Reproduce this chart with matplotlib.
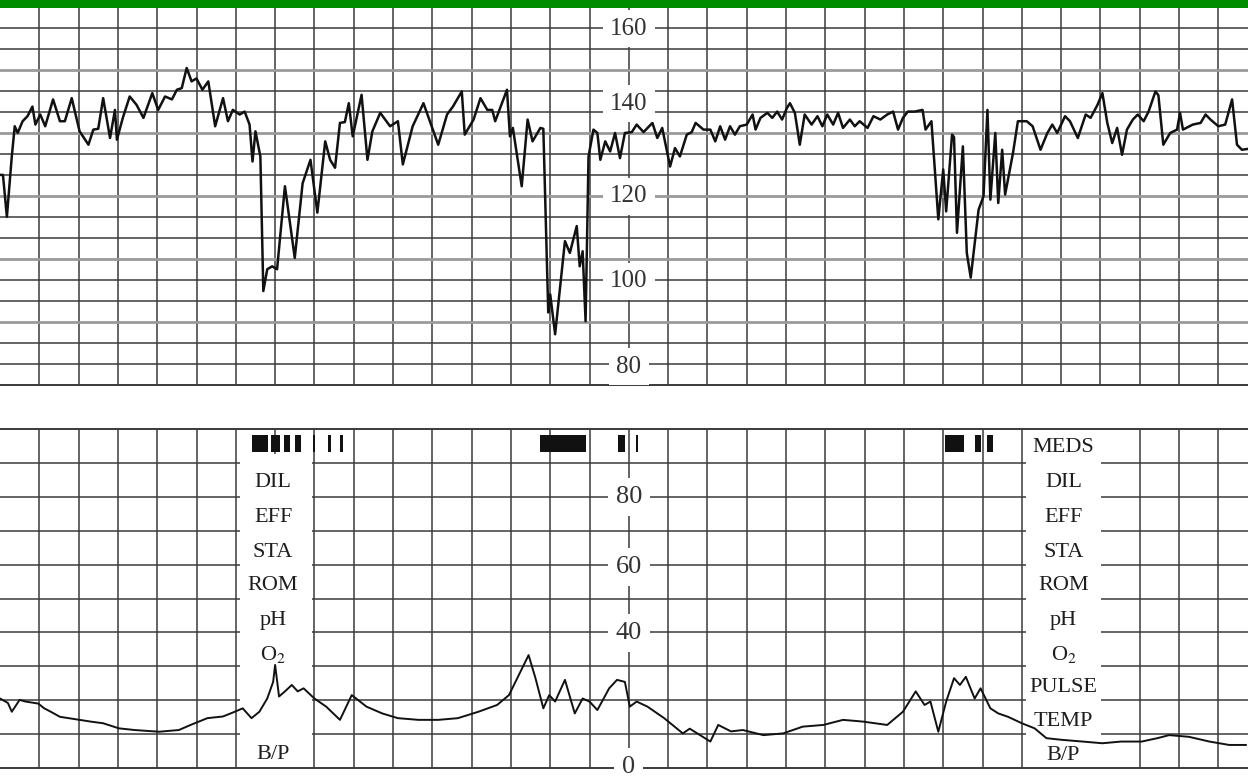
import matplotlib
matplotlib.use('Agg')
import matplotlib.pyplot as plt
from matplotlib.patches import Rectangle
import numpy as np

plt.rcParams['mathtext.fontset'] = 'stix'
SERIF = 'Liberation Serif'

# ---------------- data ----------------
# Fetal heart rate trace: time (s) and bpm
fhr_t = [0, 1.5, 3.5, 6, 7.5, 9, 11.5, 14, 16.5, 18,
         20.5, 23, 27, 30.5, 33, 36.5, 40.5, 45, 47.5, 50,
         52.5, 56, 58.5, 59.5, 62.5, 66, 69.5, 73, 77.5, 80.5,
         84, 87.5, 90, 92.5, 95, 97.5, 100, 103, 106, 109.5,
         113.5, 116, 118.5, 122, 124.5, 127, 128.5, 130, 132.5, 134,
         136, 138.5, 141, 145, 150, 154, 158, 161.5, 165.5, 168,
         170.5, 173, 175.5, 177.5, 179.5, 184, 187, 189.5, 193.5, 196,
         198.5, 202.5, 205, 210, 215.5, 223, 227.5, 230.5, 235, 236.5,
         241, 244.5, 248, 250.5, 252, 258, 259.5, 261, 265.5, 268.5,
         271, 275, 276.5, 279, 280, 282.5, 287.5, 290, 293.5, 295,
         296.5, 298, 299.5, 302, 304, 305.5, 308, 310.5, 313, 315.5,
         318, 321.5, 324, 327.5, 332, 334.5, 337, 341, 343.5, 346,
         349.5, 352, 354, 358, 361.5, 364, 366.5, 369, 371.5, 374,
         376.5, 380, 383, 384.5, 387, 390.5, 393, 395.5, 398, 400.5,
         402, 404.5, 407, 409.5, 413, 416, 418.5, 421, 424, 426.5,
         429, 432.5, 435, 437.5, 441.5, 444.5, 448, 451.5, 454.5, 457,
         459.5, 462, 465.5, 469.5, 471, 474, 477.5, 480, 481.5, 484.5,
         485.5, 487, 490, 492, 494, 498, 500.5, 502.5, 504, 506.5,
         508, 510, 511.5, 515.5, 518, 522.5, 525.5, 529.5, 533, 535.5,
         538, 542, 544.5, 548.5, 552.5, 555, 558.5, 561, 563.5, 566,
         568.5, 571, 573.5, 576.5, 579, 582, 584.5, 588, 589.5, 592,
         595.5, 599, 600.5, 602, 607, 611, 613.5, 616, 620, 623.5,
         627, 629.5, 632, 635]
fhr_bpm = [125, 125, 115, 129.4, 136.6, 135, 137.8, 139, 141.3, 137,
           139.4, 136.6, 143, 137.8, 137.8, 143.3, 135.4, 132.2, 135.8, 136,
           143.3, 133.8, 140.5, 133.4, 138.6, 143.7, 141.7, 138.6, 144.5, 140.5,
           143.7, 143, 145.3, 145.7, 150.5, 147.3, 148, 145.3, 147.3, 136.6,
           143.3, 137.8, 140.5, 139.4, 140.1, 137, 128.2, 135.4, 129.4, 97.3,
           102.5, 103.2, 102.5, 122.3, 105.2, 123, 128.6, 116, 133, 128.6,
           126.7, 137.4, 137.6, 142.1, 134.2, 144.1, 128.6, 135.4, 139.8, 138.2,
           136.6, 137.8, 127.5, 136.6, 142.1, 132.2, 139.4, 141.3, 144.9, 134.6,
           138.2, 143.3, 140.5, 140.5, 137.8, 145.3, 134.2, 136.2, 122.3, 138.2,
           133, 136.2, 136, 92.2, 96.5, 87, 109.2, 106.4, 112.8, 103.2,
           106.8, 90.1, 129.4, 135.8, 135, 128.6, 133, 130.6, 135, 129,
           135, 135.2, 137, 135.2, 137.4, 133.8, 136.2, 127, 131.4, 129.4,
           134.6, 135.2, 137.4, 135.8, 135.8, 133, 136.6, 133.4, 136.6, 134.6,
           136.6, 137, 139.4, 135.8, 138.6, 139.8, 138.6, 140.1, 138.2, 141,
           142.1, 139.8, 132.2, 139.4, 137, 139, 136.6, 139.4, 137, 139.8,
           136.2, 138.2, 136.6, 137.8, 136.2, 139, 138.2, 139.4, 140.1, 135.8,
           138.6, 140.1, 140.1, 140.5, 135.8, 137.8, 114.4, 126.3, 116.3, 134.6,
           134, 111.2, 131.8, 106.4, 100.5, 116.7, 119.9, 140.5, 119.1, 135,
           118.3, 131, 120.3, 130.2, 137.8, 137.8, 136.6, 131, 135, 137,
           135, 139, 137.8, 133.8, 139.4, 138.6, 141.7, 144.5, 137.4, 132.6,
           136.2, 129.8, 135.8, 138.2, 139.4, 137.8, 140.1, 144.9, 144, 132.2,
           135, 135.8, 139.8, 135.8, 137, 137.4, 139.4, 138.2, 136.6, 137,
           143, 132.2, 131, 131.2]

# Uterine activity trace: time (s) and pressure
ua_t = [0, 4, 6, 10, 13, 19.5, 22.5, 25.5, 30.5, 40.5,
        46, 52.5, 60.5, 68.5, 81, 91, 97, 105.5, 113.5, 119.5,
        123.5, 128, 132, 136, 139, 140, 142, 145, 148.5, 151.5,
        154.5, 160, 166, 173, 179, 186.5, 194.5, 202.5, 213, 223,
        233, 243.5, 253, 259, 264, 269, 272.5, 276.5, 279.5, 282.5,
        287.5, 292.5, 296.5, 300, 304, 310, 314, 318, 320.5, 324,
        329.5, 338, 347.5, 351, 361.5, 365.5, 372, 378, 388.5, 398.5,
        408.5, 419, 429, 439, 451.5, 459.5, 466, 470.5, 473.5, 477.5,
        481.5, 485.5, 488.5, 491.5, 496, 499, 504, 508, 513, 520,
        526.5, 532.5, 540.5, 551, 561, 570.5, 581, 589, 595, 605,
        615.5, 625.5, 634]
ua_val = [20.5, 19.2, 16.6, 20.1, 19.6, 19, 17.6, 16.7, 15.1, 14.2,
          13.7, 13.2, 11.7, 11.2, 10.7, 11.2, 12.7, 14.7, 15.2, 16.6,
          17.6, 14.7, 16.6, 20.5, 25.4, 30.4, 21.1, 22.6, 24.5, 22.6,
          23.5, 20.5, 18.1, 14.2, 21.5, 18.1, 16.1, 14.7, 14.2, 14.2,
          14.7, 16.6, 18.6, 21.5, 27.4, 33.3, 26.5, 17.6, 21.5, 19.6,
          26, 16.1, 20.5, 19.6, 17.1, 23.5, 26, 25.4, 18.1, 19.6,
          18.1, 14.7, 10.2, 11.6, 7.8, 12.7, 10.8, 11.2, 9.7, 10.2,
          12.2, 12.7, 14.2, 13.7, 12.7, 16.6, 22.6, 18.6, 19.6, 10.7,
          19.6, 26.5, 24.5, 26.9, 20.5, 23.5, 17.6, 16.1, 15.1, 13.2,
          11.7, 8.8, 8.3, 7.8, 7.3, 7.8, 7.8, 8.8, 9.7, 9.2,
          7.8, 6.8, 6.8]

# scale labels
fhr_ticks = ['160', '140', '120', '100', '80']
fhr_tick_y = [159.8, 142, 119.9, 99.6, 79.3]
ua_ticks = ['80', '60', '40', '0']
ua_tick_y = [80, 59.3, 39.8, 0.3]

# annotation columns
left_labels = ['DIL', 'EFF', 'STA', 'ROM', 'pH', 'O$_2$', 'B/P']
left_label_y = [84.3, 74, 63.7, 53.7, 43.5, 33.5, 4]
right_labels = ['MEDS', 'DIL', 'EFF', 'STA', 'ROM', 'pH', 'O$_2$', 'PULSE', 'TEMP', 'B/P']
right_label_y = [94.4, 84.3, 74, 63.7, 53.7, 43.5, 33.5, 23.6, 13.6, 3.8]

# event marks: (start s, duration s)
event_marks = [(128.3, 8.1), (138, 4.5), (144.5, 3.1), (150.2, 3.0),
               (159.2, 1.3), (166.9, 1.3), (173, 1.3),
               (274.9, 23.4), (314.6, 3.5), (323.6, 1.3),
               (481, 9.7), (496.3, 3.0), (502.4, 3.0)]

# ---------------- figure ----------------
W, H = 1248, 779
fig = plt.figure(figsize=(W / 100, H / 100), dpi=100)
fig.patches.append(Rectangle((0, 1 - 7.5 / H), 1, 7.5 / H, transform=fig.transFigure,
                             fc='#008c00', ec='none'))

ax1 = fig.add_axes([0, 1 - 385 / H, 1, (385 - 8) / H])
ax2 = fig.add_axes([0, 1 - 768 / H, 1, (768 - 429) / H])

T_MAX = 635.1
GRID_DARK = '#3a3a3a'
GRID_LIGHT = '#9a9a9a'
for ax in (ax1, ax2):
    ax.set_xlim(0, T_MAX)
    ax.axis('off')
ax1.set_ylim(74.9, 164.8)
ax2.set_ylim(0, 100)

grid_t = np.arange(20, 621, 20)

# top panel grid
ax1.vlines(grid_t, 74.9, 164.8, color=GRID_DARK, lw=1.1, zorder=1)
for v in range(80, 161, 5):
    if (v - 75) % 15 == 0:
        ax1.axhline(v, color=GRID_LIGHT, lw=2.0, zorder=1)
    else:
        ax1.axhline(v, color=GRID_DARK, lw=1.1, zorder=1)
ax1.axhline(74.9, color=GRID_DARK, lw=1.4, zorder=1, clip_on=False)

# bottom panel grid
ax2.vlines(grid_t, 0, 100, color=GRID_DARK, lw=1.1, zorder=1)
for v in range(10, 100, 10):
    ax2.axhline(v, color=GRID_DARK, lw=1.1, zorder=1)

# white annotation columns
ax2.add_patch(Rectangle((122.1, -1), 36.7, 93.5, fc='white', ec='none', zorder=2))
ax2.add_patch(Rectangle((522.1, -1), 38.2, 102, fc='white', ec='none', zorder=2))
for v in (0, 100):
    ax2.axhline(v, color=GRID_DARK, lw=1.4, zorder=3, clip_on=False)

for s, y in zip(left_labels, left_label_y):
    ax2.text(139, y, s, ha='center', va='center', fontsize=16, family=SERIF,
             color='#1e1e1e', zorder=3)
for s, y in zip(right_labels, right_label_y):
    ax2.text(541.2, y, s, ha='center', va='center', fontsize=16, family=SERIF,
             color='#1e1e1e', zorder=3)

ax2.broken_barh(event_marks, (93.2, 5.0), facecolors='#111111', zorder=3)

# traces
ax1.plot(fhr_t, fhr_bpm, color='#111111', lw=1.8, zorder=4, solid_joinstyle='round')
ax2.plot(ua_t, ua_val, color='#111111', lw=1.4, zorder=4, solid_joinstyle='round')

# scale labels in centre column
box = dict(boxstyle='square,pad=0.3', fc='white', ec='none')
for s, y in zip(fhr_ticks, fhr_tick_y):
    ax1.text(320, y, s, ha='center', va='center', fontsize=18, family=SERIF,
             color='#333333', zorder=5, bbox=box)
for s, y in zip(ua_ticks, ua_tick_y):
    ax2.text(320, y, s, ha='center', va='center', fontsize=19, family=SERIF,
             color='#333333', zorder=5, bbox=box, clip_on=False)

fig.savefig('out.png', dpi=100)
